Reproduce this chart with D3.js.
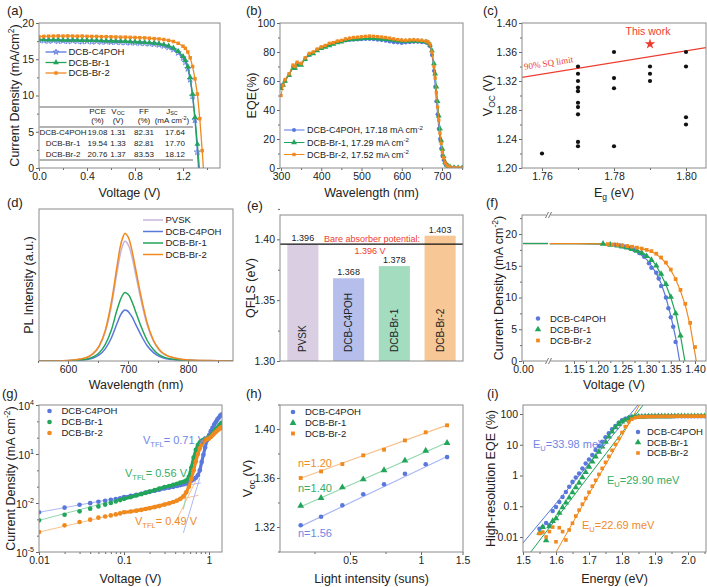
<!DOCTYPE html>
<html><head><meta charset="utf-8">
<script src="https://cdn.jsdelivr.net/npm/d3@7/dist/d3.min.js"></script>
<style>html,body{margin:0;padding:0;background:#fff}svg{display:block}</style>
</head><body>
<svg id="fig" width="707" height="587" xmlns="http://www.w3.org/2000/svg"></svg>
<script>
// ================= DATA =================
const seriesNames = ['DCB-C4POH','DCB-Br-1','DCB-Br-2'];

// (a) J-V
const aVolt = [0.00,0.04,0.08,0.12,0.16,0.20,0.24,0.28,0.32,0.36,0.40,0.44,0.48,0.52,0.56,0.60,0.64,0.68,0.72,0.76,0.80,0.84,0.88,0.92,0.96,1.00,1.04,1.08,1.12,1.16,1.20,1.22,1.24,1.26,1.28,1.30,1.32,1.34,1.36,1.38];
const aJ_C4POH = [17.64,17.58,17.52,17.60,17.50,17.55,17.48,17.56,17.50,17.44,17.50,17.42,17.48,17.40,17.44,17.38,17.40,17.34,17.32,17.30,17.28,17.24,17.20,17.15,17.10,17.00,16.85,16.65,16.35,15.90,15.20,14.60,13.70,12.20,9.90,6.60,2.20,-2.5,-7,-11];
const aJ_Br1 = [17.70,17.72,17.70,17.68,17.70,17.66,17.65,17.66,17.64,17.62,17.62,17.60,17.60,17.58,17.55,17.55,17.52,17.50,17.48,17.45,17.42,17.38,17.34,17.30,17.24,17.15,17.02,16.85,16.55,16.10,15.40,14.85,14.00,12.50,10.20,7.00,3.30,-0.8,-5,-9];
const aJ_Br2 = [18.12,18.15,18.18,18.20,18.22,18.20,18.22,18.20,18.18,18.20,18.16,18.15,18.15,18.12,18.12,18.10,18.08,18.05,18.05,18.02,18.00,17.98,17.95,17.90,17.85,17.80,17.72,17.60,17.45,17.20,16.80,16.50,16.00,15.20,14.00,12.30,10.20,6.80,2.40,-2.5];
const tablePCE = ['19.08','19.54','20.76'];
const tableVoc = ['1.31','1.33','1.37'];
const tableFF  = ['82.31','82.81','83.53'];
const tableJsc = ['17.64','17.70','18.12'];

// (b) EQE
const bWl = [300,305,310,320,330,335,340,350,360,370,380,390,400,410,420,430,440,450,460,470,480,490,500,510,520,530,540,550,560,570,580,590,600,610,620,630,640,650,660,665,670,675,680,683,686,689,692,695,698,701,704,708,712,716,720,730,740,750];
const bEQE_C4POH = [57,57,60,64,70,69,72,72,75,78,79.5,81.5,83,84,85,86,87,87.5,88,88.3,88.5,88.6,88.8,89,89,88.8,88.5,88.2,87.8,87.3,86.8,86.5,86.2,86.5,86.8,87,87,86.8,86.5,86,84,78,67,56,46,37,27,20,13.5,8.5,5.5,2.8,1.5,0.9,0.5,0.3,0.2,0.1];
const bEQE_Br1 = [55,57,60,64,69,69,71,71,75,78,79,81,82.5,83.5,84.5,85.5,86.5,87,88,88.5,88.8,89,89.2,89.4,89.5,89.4,89.3,89,88.8,88.5,88,87.7,87.5,87.3,87.5,87.6,87.5,87.3,87,86.5,85,81,72,65,56,46,36,27,19,13,8,4,2,1.1,0.7,0.3,0.2,0.1];
const bEQE_Br2 = [50,57,61,65,71,70,73,72,76,79,80,82,83.5,84.5,86,86.5,87.5,88,89,89.5,90,90.2,90.5,90.8,91,90.8,90.6,90.3,90,89.5,89,88.5,88.2,88,88.3,88.4,88.2,88,87.5,87,85.5,80,70,62,52,42,33,24,17,11,7,3.5,1.8,1,0.6,0.3,0.2,0.1];
const bLegend = ['DCB-C4POH, 17.18 mA cm','DCB-Br-1, 17.29 mA cm','DCB-Br-2, 17.52 mA cm'];

// (c) Voc vs Eg
const cEg  = [1.76,1.77,1.77,1.77,1.77,1.77,1.77,1.77,1.77,1.77,1.77,1.78,1.78,1.78,1.78,1.79,1.79,1.79,1.80,1.80,1.80,1.80];
const cVoc = [1.22,1.34,1.33,1.32,1.311,1.306,1.29,1.284,1.274,1.236,1.23,1.36,1.324,1.31,1.23,1.34,1.33,1.32,1.36,1.34,1.27,1.26];
const cSQEg = [1.7544,1.8056];
const cSQVoc = [1.325,1.366];
const cThisWork = [1.79,1.371];

// (d) PL
const dWl = [550,600,620,632,642,652,662,672,682,687,692,695,698,702,707,712,722,732,742,752,762,782,802,850,875];
const dPVSK  = [0,0.004,0.012,0.024,0.047,0.095,0.19,0.355,0.59,0.70,0.77,0.79,0.78,0.75,0.68,0.585,0.395,0.237,0.134,0.071,0.04,0.016,0.006,0.002,0];
const dC4POH = [0,0.002,0.005,0.01,0.02,0.04,0.08,0.15,0.25,0.298,0.328,0.335,0.332,0.318,0.288,0.248,0.168,0.1,0.057,0.03,0.017,0.007,0.003,0.001,0];
const dBr1   = [0,0.002,0.007,0.013,0.027,0.054,0.108,0.2,0.34,0.4,0.44,0.45,0.445,0.43,0.387,0.333,0.225,0.135,0.077,0.04,0.022,0.009,0.004,0.001,0];
const dBr2   = [0,0.004,0.013,0.025,0.05,0.10,0.20,0.38,0.63,0.75,0.82,0.84,0.83,0.80,0.72,0.62,0.42,0.25,0.14,0.076,0.042,0.017,0.007,0.002,0];
const dNames = ['PVSK','DCB-C4POH','DCB-Br-1','DCB-Br-2'];

// (e) QFLS
const eCats = ['PVSK','DCB-C4POH','DCB-Br-1','DCB-Br-2'];
const eQFLS = [1.396,1.368,1.378,1.403];
const eBare = 1.396;

// (f) simulated J-V
const fLeftV = [0.0,0.5];
const fLeftJ = [18.5,18.5];
const fFitV = [1.10,1.15,1.20,1.22,1.24,1.26,1.28,1.30,1.31,1.32,1.33,1.34,1.35,1.36,1.37,1.38,1.39,1.40,1.41];
const fFit_C4POH = [18.5,18.5,18.4,18.3,18.1,17.8,17.2,16.0,15.0,13.8,12.2,10.0,7.1,3.7,-0.8,-5,-9,-13,-17];
const fFit_Br1 = [18.5,18.5,18.45,18.35,18.2,17.9,17.5,16.7,16.0,15.0,13.6,12.0,10.0,7.5,4.0,-0.4,-4,-8,-12];
const fFit_Br2 = [18.5,18.5,18.45,18.4,18.3,18.15,17.9,17.5,17.2,16.8,16.2,15.4,14.3,12.9,11.0,8.8,5.6,1.2,-3.5];
const fMarkV_C4POH = [1.235,1.245,1.255,1.265,1.275,1.285,1.295,1.305,1.31,1.32,1.325,1.33,1.34,1.345,1.35,1.355,1.36];
const fMarkJ_C4POH = [18.3,18.2,18.0,17.8,17.5,17.0,16.4,15.4,14.7,13.9,13.0,11.8,10.0,8.3,6.9,5.4,3.0];
const fMarkV_Br1 = [1.21,1.225,1.24,1.25,1.26,1.27,1.28,1.29,1.30,1.31,1.32,1.33,1.34,1.35,1.36,1.37];
const fMarkJ_Br1 = [18.45,18.3,18.15,18.0,17.85,17.6,17.35,17.0,16.5,15.9,15.0,13.7,12.1,10.1,7.5,4.0];
const fMarkV_Br2 = [1.22,1.23,1.24,1.25,1.26,1.27,1.28,1.29,1.30,1.31,1.32,1.33,1.34,1.35,1.36,1.37,1.38,1.39,1.40];
const fMarkJ_Br2 = [18.4,18.35,18.3,18.2,18.1,18.0,17.85,17.7,17.5,17.3,16.9,16.3,15.5,14.4,12.9,11.2,9.0,6.0,2.2];

// (g) SCLC
const gV = [0.01,0.02,0.03,0.04,0.05,0.06,0.07,0.08,0.09,0.10,0.12,0.14,0.16,0.18,0.20,0.23,0.26,0.30,0.34,0.38,0.42,0.46,0.50,0.54,0.58,0.62,0.66,0.70,0.74,0.78,0.82,0.86,0.90,0.95,1.00,1.05,1.10,1.15,1.20,1.25,1.30,1.35,1.40];
const gJ_C4POH = [0.0027,0.0052,0.0078,0.0098,0.012,0.0138,0.0158,0.0175,0.0195,0.023,0.027,0.032,0.037,0.043,0.048,0.056,0.065,0.078,0.088,0.098,0.11,0.125,0.14,0.16,0.19,0.23,0.28,0.35,0.5,1.0,3.2,9,25,70,140,250,400,630,890,1260,1660,2140,2630];
const gJ_Br1 = [0.00087,0.0019,0.0031,0.0045,0.0062,0.0080,0.0100,0.0125,0.015,0.018,0.023,0.029,0.035,0.042,0.050,0.062,0.077,0.095,0.11,0.13,0.15,0.175,0.20,0.24,0.40,1.5,6,18,35,52,65,75,85,92,100,130,180,240,310,400,500,640,800];
const gJ_Br2 = [0.000166,0.00043,0.00069,0.00095,0.00126,0.0015,0.00174,0.0020,0.0023,0.0027,0.0030,0.0034,0.0038,0.0043,0.0048,0.0056,0.0065,0.0080,0.0095,0.0115,0.014,0.018,0.026,0.045,0.1,0.3,1.0,3.5,10,22,38,55,70,82,90,110,140,180,220,270,320,380,440];
const gFitSeries = [0,1,2,0,2,1];
const gFitV = [[0.01,0.80],[0.01,0.72],[0.01,0.75],[0.50,0.78],[0.40,0.71],[0.50,0.62]];
const gFitJ = [[0.0027,0.17],[0.00087,0.30],[0.000166,0.03],[0.00015,0.35],[0.0006,0.27],[0.004,1.5]];
const gVtfl = ['0.71','0.56','0.49'];

// (h) Voc vs light intensity
const hI = [0.309,0.377,0.464,0.569,0.697,0.855,1.047,1.29];
const hVoc_C4POH = [1.3214,1.3284,1.3377,1.3467,1.3548,1.3635,1.3712,1.3771];
const hVoc_Br1 = [1.3374,1.3437,1.3524,1.3589,1.3663,1.3742,1.3823,1.3886];
const hVoc_Br2 = [1.3600,1.3654,1.3714,1.3785,1.3831,1.3907,1.3973,1.4030];
const hFitI = [0.309,1.29];
const hFit_C4POH = [1.3205,1.3775];
const hFit_Br1 = [1.3365,1.3890];
const hFit_Br2 = [1.3598,1.4032];
const hN = ['n=1.56','n=1.40','n=1.20'];

// (i) Urbach
const iE = [1.55,1.56,1.57,1.58,1.59,1.60,1.61,1.62,1.63,1.64,1.65,1.66,1.67,1.68,1.69,1.70,1.71,1.72,1.73,1.74,1.75,1.76,1.77,1.78,1.79,1.80,1.81,1.82,1.83,1.84,1.85,1.86,1.87,1.88,1.89,1.90,1.91,1.92,1.93,1.94,1.95,1.96,1.97,1.98,1.99,2.00,2.01,2.02,2.03,2.04,2.05,2.06];
const iEQE_C4POH = [0.0187,0.021,0.0286,0.024,0.0705,0.095,0.138,0.20,0.29,0.43,0.62,0.86,1.16,1.69,2.46,3.3,4.6,6.7,9.1,12.5,17.4,23.5,31.7,40.7,52,63,70,76,80,82,83,83,83,84,84,84,84,84,84,85,85,85,85,85,85,85,85,85,85,85,85,85];
const iEQE_Br1 = [0.0135,0.021,0.0077,0.022,0.033,0.040,0.061,0.091,0.13,0.19,0.28,0.41,0.58,0.86,1.28,1.92,2.8,4.07,5.9,8.6,12.5,18.2,26.5,36.7,47,56,64,72,78,81,82,82,83,83,83,84,84,84,84,84,84,85,85,85,85,85,85,85,85,85,85,85];
const iEQE_Br2 = [0.013,0.0145,0.010,0.015,0.021,0.007,0.02,0.015,0.008,0.017,0.028,0.048,0.075,0.117,0.18,0.285,0.45,0.70,1.09,1.71,2.68,4.2,6.6,10.3,16,25,39,56,68,76,80,81,82,82,83,83,83,84,84,84,84,84,85,85,85,85,85,85,85,85,85,85];
const iFitE = [[1.50,1.8485],[1.523,1.864],[1.60,1.853]];
const iFitEQE = [[0.0064,196],[0.0032,196],[0.0032,196]];
const iEu = ['33.98','29.90','22.69'];

// ================= STYLE =================
const FONT = '"Liberation Sans", Arial, Helvetica, sans-serif';
const COL = ['#5a78dc','#22a55a','#f0891e'];
const TXT = ['#6f86e6','#35ad63','#f08a25'];
const PALE = ['#aab8f2','#92d6ad','#f7c18c'];
const PVSK_COL = '#c4b4dc';
const BAR_COL = ['#d9cee2','#b6bfec','#a4dcc0','#f7c795'];
const RED = '#ee3b2f';
const svg = d3.select('#fig');

function rich(sel, parts, fs){
  let cur = 0;
  parts.forEach(p=>{
    let t=p, k=null;
    if(Array.isArray(p)){t=p[0];k=p[1];}
    const target = k==='sub'? fs*0.24 : (k==='sup'? -fs*0.4 : 0);
    const ts = sel.append('tspan').text(t).attr('dy',(target-cur).toFixed(2));
    if(k) ts.attr('font-size',(fs*0.68).toFixed(1));
    cur = target;
  });
  return sel;
}
function label(x,y,parts,fs,opts={}){
  const t = svg.append('text').attr('x',x).attr('y',y).attr('font-size',fs)
    .attr('font-family',opts.family||FONT).attr('fill',opts.fill||'#222')
    .attr('text-anchor',opts.anchor||'start');
  if(opts.rotate!=null) t.attr('transform',`rotate(${opts.rotate},${x},${y})`);
  if(opts.style) t.attr('font-style',opts.style);
  rich(t, Array.isArray(parts)?parts:[parts], fs);
  return t;
}
function ytitle(xc,yc,parts,fs=12.5){ return label(xc+fs*0.36,yc,parts,fs,{anchor:'middle',rotate:-90}); }
function frame(b){
  svg.append('rect').attr('x',b.x0).attr('y',b.y0).attr('width',b.x1-b.x0).attr('height',b.y1-b.y0)
    .attr('fill','none').attr('stroke','#8a8a8a').attr('stroke-width',1);
}
let clipN=0;
function clip(b){
  const id='clip'+(clipN++);
  svg.append('clipPath').attr('id',id).append('rect').attr('x',b.x0).attr('y',b.y0).attr('width',b.x1-b.x0).attr('height',b.y1-b.y0);
  return `url(#${id})`;
}
function styleAx(g,fs){
  g.select('.domain').remove();
  g.selectAll('line').attr('stroke','#666');
  g.selectAll('text').attr('font-size',fs).attr('font-family',FONT).attr('fill','#222');
}
function axB(scale,y,vals,fmt,minor,fs=10.5){
  const g = svg.append('g').attr('transform',`translate(0,${y})`)
    .call(d3.axisBottom(scale).tickValues(vals).tickFormat(fmt).tickSize(3).tickSizeOuter(0).tickPadding(2));
  styleAx(g,fs);
  if(minor){const m=svg.append('g').attr('transform',`translate(0,${y})`).call(d3.axisBottom(scale).tickValues(minor).tickFormat('').tickSize(2).tickSizeOuter(0)); styleAx(m,fs);}
  return g;
}
function axL(scale,x,vals,fmt,minor,fs=10.5){
  const g = svg.append('g').attr('transform',`translate(${x},0)`)
    .call(d3.axisLeft(scale).tickValues(vals).tickFormat(fmt).tickSize(3).tickSizeOuter(0).tickPadding(2));
  styleAx(g,fs);
  if(minor){const m=svg.append('g').attr('transform',`translate(${x},0)`).call(d3.axisLeft(scale).tickValues(minor).tickFormat('').tickSize(2).tickSizeOuter(0)); styleAx(m,fs);}
  return g;
}
function line(xs,ys,xS,yS,color,w,cl,curve){
  const gen = d3.line().x(d=>xS(d[0])).y(d=>yS(d[1]));
  if(curve) gen.curve(curve);
  svg.append('path').attr('d',gen(xs.map((x,i)=>[x,ys[i]]))).attr('fill','none')
    .attr('stroke',color).attr('stroke-width',w).attr('stroke-linejoin','round').attr('clip-path',cl||null);
}
const SYM = [d3.symbolCircle, d3.symbolTriangle, d3.symbolSquare];
function marks(xs,ys,xS,yS,type,size,fill,stroke,cl,sw){
  const sym = d3.symbol().type(type).size(size);
  svg.append('g').attr('clip-path',cl||null).selectAll('path').data(xs.map((x,i)=>[x,ys[i]])).join('path')
    .attr('d',sym).attr('transform',d=>`translate(${xS(d[0]).toFixed(2)},${yS(d[1]).toFixed(2)})`)
    .attr('fill',fill).attr('stroke',stroke||'none').attr('stroke-width',sw||0.8);
}
function mark1(x,y,type,size,fill,stroke,sw){
  svg.append('path').attr('d',d3.symbol().type(type).size(size)()).attr('transform',`translate(${x},${y})`)
    .attr('fill',fill).attr('stroke',stroke||'none').attr('stroke-width',sw||0.8);
}
function plabel(x,y,t){ label(x,y,t,13); }

// ================= (a) =================
{
  const B={x0:39,y0:23,x1:220,y1:168}, cl=clip(B);
  const x=d3.scaleLinear().domain([0,1.2]).range([39,183]);
  const y=d3.scaleLinear().domain([0,20]).range([168,23]);
  axB(x,B.y1,[0,0.4,0.8,1.2],d3.format('.1f'),[0.2,0.6,1.0,1.4]);
  axL(y,B.x0,[0,5,10,15,20],d3.format('d'),[2.5,7.5,12.5,17.5]);
  const Js=[aJ_C4POH,aJ_Br1,aJ_Br2];
  [0,1,2].forEach(i=>line(aVolt,Js[i],x,y,COL[i],1.3,cl));
  marks(aVolt,aJ_C4POH,x,y,d3.symbolStar,12,'none',COL[0],cl,0.8);
  marks(aVolt,aJ_Br1,x,y,d3.symbolTriangle,15,COL[1],null,cl);
  marks(aVolt,aJ_Br2,x,y,d3.symbolSquare,12,COL[2],null,cl);
  // legend
  const ly=[52,62.5,73];
  [0,1,2].forEach(i=>{
    svg.append('line').attr('x1',45.5).attr('x2',66.5).attr('y1',ly[i]).attr('y2',ly[i]).attr('stroke',COL[i]).attr('stroke-width',1.3);
    if(i===0) mark1(56,ly[i],d3.symbolStar,10,'none',COL[0],0.8);
    else mark1(56,ly[i],SYM[i],i===1?15:12,COL[i]);
    label(68.5,ly[i]+3.3,seriesNames[i],9.5);
  });
  // table
  [107,127,160].forEach(yy=>svg.append('line').attr('x1',39.5).attr('x2',193).attr('y1',yy).attr('y2',yy).attr('stroke','#9a9a9a').attr('stroke-width',1.5));
  const tf=8, cx=[97.5,118,144,172];
  label(cx[0],113.5,'PCE',tf,{anchor:'middle'}); label(cx[0],123,'(%)',tf,{anchor:'middle'});
  label(cx[1],113.5,['V',['OC','sub']],tf,{anchor:'middle'}); label(cx[1],123,'(V)',tf,{anchor:'middle'});
  label(cx[2],113.5,'FF',tf,{anchor:'middle'}); label(cx[2],123,'(%)',tf,{anchor:'middle'});
  label(cx[3],113.5,['J',['SC','sub']],tf,{anchor:'middle'}); label(cx[3],123,['(mA cm',['-2','sup'],[')',null]],tf,{anchor:'middle'});
  const ry=[135,146,157];
  [0,1,2].forEach(i=>{
    label(63,ry[i],seriesNames[i],tf,{anchor:'middle'});
    label(cx[0],ry[i],tablePCE[i],tf,{anchor:'middle'});
    label(cx[1],ry[i],tableVoc[i],tf,{anchor:'middle'});
    label(cx[2],ry[i],tableFF[i],tf,{anchor:'middle'});
    label(175,ry[i],tableJsc[i],tf,{anchor:'middle'});
  });
  frame(B);
  label(129.5,197,'Voltage (V)',12.5,{anchor:'middle'});
  ytitle(14,95.5,['Current Density (mA/cm',['2','sup'],[')',null]]);
  plabel(7,15,'(a)');
}

// ================= (b) =================
{
  const B={x0:280,y0:23,x1:463,y1:168}, cl=clip(B);
  const x=d3.scaleLinear().domain([300,700]).range([281,442]);
  const y=d3.scaleLinear().domain([0,100]).range([168,23]);
  axB(x,B.y1,[300,400,500,600,700],d3.format('d'),[350,450,550,650,750]);
  axL(y,B.x0,[0,20,40,60,80,100],d3.format('d'),[10,30,50,70,90]);
  const Es=[bEQE_C4POH,bEQE_Br1,bEQE_Br2];
  const sz=[13,15,11];
  [0,1,2].forEach(i=>{ line(bWl,Es[i],x,y,COL[i],1,cl); marks(bWl,Es[i],x,y,SYM[i],sz[i],COL[i],null,cl); });
  const ly=[130,142.5,154.5];
  [0,1,2].forEach(i=>{
    svg.append('line').attr('x1',284).attr('x2',304.5).attr('y1',ly[i]).attr('y2',ly[i]).attr('stroke',COL[i]).attr('stroke-width',1);
    mark1(294,ly[i],SYM[i],sz[i],COL[i]);
    label(307,ly[i]+3.2,[bLegend[i],['-2','sup']],9);
  });
  frame(B);
  label(371.5,197,'Wavelength (nm)',12.5,{anchor:'middle'});
  ytitle(251,95.5,'EQE(%)');
  plabel(246,15,'(b)');
}

// ================= (c) =================
{
  const B={x0:522,y0:23,x1:706,y1:168}, cl=clip(B);
  const x=d3.scaleLinear().domain([1.76,1.80]).range([542,686]);
  const y=d3.scaleLinear().domain([1.20,1.40]).range([168,23]);
  axB(x,B.y1,[1.76,1.78,1.80],d3.format('.2f'),[1.77,1.79]);
  axL(y,B.x0,[1.20,1.24,1.28,1.32,1.36,1.40],d3.format('.2f'),[1.22,1.26,1.30,1.34,1.38]);
  line(cSQEg,cSQVoc,x,y,RED,1.3,cl);
  marks(cEg,cVoc,x,y,d3.symbolCircle,14,'#111',null,cl);
  mark1(x(cThisWork[0]),y(cThisWork[1]),d3.symbolStar,34,RED);
  label(648,34.5,'This work',10.5,{anchor:'middle',fill:RED});
  label(549,66,'90% SQ limit',9,{anchor:'middle',fill:RED,family:'"Liberation Serif", "Times New Roman", serif',rotate:-9});
  frame(B);
  label(614,197,['E',['g','sub'],[' (eV)',null]],12.5,{anchor:'middle'});
  ytitle(487,95.5,['V',['OC','sub'],[' (V)',null]]);
  plabel(483,15,'(c)');
}

// ================= (d) =================
{
  const B={x0:39,y0:209,x1:233,y1:361}, cl=clip(B);
  const x=d3.scaleLinear().domain([600,800]).range([68,188]);
  const y=d3.scaleLinear().domain([0,1]).range([361,209]);
  axB(x,B.y1,[600,700,800],d3.format('d'),[550,650,750,850]);
  const Ps=[dPVSK,dC4POH,dBr1,dBr2], Pc=[PVSK_COL,COL[0],COL[1],COL[2]];
  [0,1,2,3].forEach(i=>line(dWl,Ps[i],x,y,Pc[i],1.5,cl,d3.curveMonotoneX));
  const ly=[220,231.5,243,254.5];
  [0,1,2,3].forEach(i=>{
    svg.append('line').attr('x1',143).attr('x2',163).attr('y1',ly[i]).attr('y2',ly[i]).attr('stroke',Pc[i]).attr('stroke-width',1.5);
    label(165.5,ly[i]+3.3,dNames[i],9.5);
  });
  frame(B);
  label(136,389,'Wavelength (nm)',12.5,{anchor:'middle'});
  ytitle(28,285,'PL Intensity (a.u.)');
  plabel(7,207,'(d)');
}

// ================= (e) =================
{
  const B={x0:280,y0:215,x1:463,y1:361}, cl=clip(B);
  const x=d3.scaleBand().domain(eCats).range([280,463]).paddingInner(0.32).paddingOuter(0.16);
  const y=d3.scaleLinear().domain([1.30,1.42]).range([361,215]);
  axL(y,B.x0,[1.30,1.35,1.40],d3.format('.2f'),[1.325,1.375,1.425]);
  const g=svg.append('g').attr('clip-path',cl);
  g.selectAll('rect').data(eCats).join('rect')
    .attr('x',d=>x(d)).attr('width',x.bandwidth())
    .attr('y',(d,i)=>y(eQFLS[i])).attr('height',(d,i)=>361-y(eQFLS[i]))
    .attr('fill',(d,i)=>BAR_COL[i]);
  eCats.forEach((c,i)=>{
    const cx=x(c)+x.bandwidth()/2;
    label(cx,y(eQFLS[i])-3,d3.format('.3f')(eQFLS[i]),9,{anchor:'middle'});
    label(cx+3.6,352,c,10,{rotate:-90});
  });
  svg.append('line').attr('x1',280).attr('x2',463).attr('y1',y(eBare)).attr('y2',y(eBare)).attr('stroke','#111').attr('stroke-width',1.2);
  label(372,241.5,'Bare absorber potential:',9,{anchor:'middle',fill:RED});
  label(370,253.5,d3.format('.3f')(eBare)+' V',9,{anchor:'middle',fill:RED});
  frame(B);
  ytitle(250,288,'QFLS (eV)');
  plabel(247,210,'(e)');
}

// ================= (f) =================
{
  const B={x0:522,y0:215,x1:706,y1:361}, cl=clip(B);
  const xL=d3.scaleLinear().domain([0,0.5]).range([523,548]);
  const xR=d3.scaleLinear().domain([1.15,1.40]).range([574,695]);
  const y=d3.scaleLinear().domain([0,20]).range([361,234]);
  axB(xL,B.y1,[0],d3.format('.2f'),null);
  axB(xR,B.y1,[1.15,1.20,1.25,1.30,1.35,1.40],d3.format('.2f'),[1.175,1.225,1.275,1.325,1.375,1.425]);
  axL(y,B.x0,[0,5,10,15,20],d3.format('d'),[2.5,7.5,12.5,17.5,22.5]);
  const Fs=[fFit_C4POH,fFit_Br1,fFit_Br2];
  const MV=[fMarkV_C4POH,fMarkV_Br1,fMarkV_Br2], MJ=[fMarkJ_C4POH,fMarkJ_Br1,fMarkJ_Br2];
  const sz=[16,18,14];
  [2,0,1].forEach(i=>line(fLeftV,fLeftJ,xL,y,COL[i],1.2,cl));
  [0,1,2].forEach(i=>line(fFitV,Fs[i],xR,y,COL[i],1.2,cl));
  [0,1,2].forEach(i=>marks(MV[i],MJ[i],xR,y,SYM[i],sz[i],COL[i],null,cl));
  const ly=[318.5,329.5,340.5];
  [0,1,2].forEach(i=>{ mark1(538,ly[i],SYM[i],sz[i],COL[i]); label(550,ly[i]+3.3,seriesNames[i],9.5); });
  frame(B);
  // axis break
  [B.y0,B.y1].forEach(yy=>{
    svg.append('rect').attr('x',546.5).attr('y',yy-1).attr('width',4).attr('height',2).attr('fill','#fff');
    [545.5,548.5].forEach(xx=>svg.append('line').attr('x1',xx).attr('y1',yy+3).attr('x2',xx+3).attr('y2',yy-3).attr('stroke','#666').attr('stroke-width',0.9));
  });
  label(614,389,'Voltage (V)',12.5,{anchor:'middle'});
  ytitle(498,288,['Current Density (mA cm',['-2','sup'],[')',null]]);
  plabel(486,207,'(f)');
}

// ================= (g) =================
{
  const B={x0:39,y0:405,x1:222,y1:552}, cl=clip(B);
  const x=d3.scaleLog().domain([0.01,1]).range([39,209]);
  const y=d3.scaleLog().domain([1e-5,1e4]).range([552,405]);
  axB(x,B.y1,[0.01,0.1,1],d=>String(d),[0.02,0.03,0.04,0.05,0.06,0.07,0.08,0.09,0.2,0.3,0.4,0.5,0.6,0.7,0.8,0.9]);
  axL(y,B.x0,[1e-5,1e-2,1e1,1e4],'',[1e-4,1e-3,1e-1,1,1e2,1e3]);
  [[1e-5,'-5'],[1e-2,'-2'],[1e1,'1'],[1e4,'4']].forEach(([v,e])=>label(34,y(v)+4.5,['10',[e,'sup']],10.5,{anchor:'end'}));
  const Js=[gJ_C4POH,gJ_Br1,gJ_Br2];
  gFitV.forEach((v,k)=>line(v,gFitJ[k],x,y,PALE[gFitSeries[k]],1,cl));
  [0,1,2].forEach(i=>{
    const hv=gV.filter(v=>v>=0.1), hj=Js[i].filter((j,k)=>gV[k]>=0.1);
    line(hv,hj,x,y,COL[i],3.2,cl);
    marks(gV,Js[i],x,y,d3.symbolCircle,17,COL[i],null,cl);
  });
  const ly=[411,422,433];
  [0,1,2].forEach(i=>{ mark1(49.5,ly[i],d3.symbolCircle,17,COL[i]); label(61.5,ly[i]+3.3,seriesNames[i],9.5); });
  label(143,444,['V',['TFL','sub'],['= '+gVtfl[0]+' V',null]],11,{fill:TXT[0]});
  label(125,477,['V',['TFL','sub'],['= '+gVtfl[1]+' V',null]],11,{fill:TXT[1]});
  label(135,525,['V',['TFL','sub'],['= '+gVtfl[2]+' V',null]],11,{fill:TXT[2]});
  frame(B);
  label(130.5,583,'Voltage (V)',12.5,{anchor:'middle'});
  ytitle(10,478.5,['Current Density (mA cm',['-2','sup'],[')',null]]);
  plabel(2,398,'(g)');
}

// ================= (h) =================
{
  const B={x0:280,y0:405,x1:463,y1:552}, cl=clip(B);
  const x=d3.scaleLog().domain([0.5,1]).range([350,421]);
  const y=d3.scaleLinear().domain([1.32,1.40]).range([527,429]);
  axB(x,B.y1,[0.5,1,1.5],d=>String(d),[0.3536,0.7071]);
  axL(y,B.x0,[1.32,1.36,1.40],d3.format('.2f'),[1.30,1.34,1.38,1.42]);
  const Vs=[hVoc_C4POH,hVoc_Br1,hVoc_Br2], Fs=[hFit_C4POH,hFit_Br1,hFit_Br2];
  const sz=[17,20,15];
  [0,1,2].forEach(i=>{ line(hFitI,Fs[i],x,y,PALE[i],1.2,cl); marks(hI,Vs[i],x,y,SYM[i],sz[i],COL[i],null,cl); });
  const ly=[412,423,433.5];
  [0,1,2].forEach(i=>{ mark1(293,ly[i],SYM[i],sz[i],COL[i]); label(305,ly[i]+3.3,seriesNames[i],9.5); });
  label(298,467,hN[2],11,{fill:TXT[2]});
  label(298,492,hN[1],11,{fill:TXT[1]});
  label(298,537,hN[0],11,{fill:TXT[0]});
  frame(B);
  label(371.5,583,'Light intensity (suns)',12.5,{anchor:'middle'});
  ytitle(247,478.5,['V',['oc','sub'],[' (V)',null]]);
  plabel(246,398,'(h)');
}

// ================= (i) =================
{
  const B={x0:523,y0:405,x1:706,y1:552}, cl=clip(B);
  const x=d3.scaleLinear().domain([1.5,2.0]).range([523,688]);
  const y=d3.scaleLog().domain([0.01,100]).range([537,414]);
  axB(x,B.y1,[1.5,1.6,1.7,1.8,1.9,2.0],d3.format('.1f'),[1.55,1.65,1.75,1.85,1.95,2.05]);
  axL(y,B.x0,[0.01,0.1,1,10,100],d=>String(d),null);
  const Es=[iEQE_C4POH,iEQE_Br1,iEQE_Br2];
  const sz=[16,18,13];
  [0,1,2].forEach(i=>line(iFitE[i],iFitEQE[i],x,y,COL[i],1,cl));
  [0,1,2].forEach(i=>marks(iE,Es[i],x,y,SYM[i],sz[i],COL[i],null,cl));
  const ly=[432,442.5,453];
  [0,1,2].forEach(i=>{ mark1(638,ly[i],SYM[i],sz[i],COL[i]); label(647,ly[i]+3.3,seriesNames[i],9.5); });
  label(533,448,['E',['U','sub'],['='+iEu[0]+' meV',null]],11,{fill:TXT[0]});
  label(607,484,['E',['U','sub'],['='+iEu[1]+' meV',null]],11,{fill:TXT[1]});
  label(582,529,['E',['U','sub'],['='+iEu[2]+' meV',null]],11,{fill:TXT[2]});
  frame(B);
  label(614.5,583,'Energy (eV)',12.5,{anchor:'middle'});
  ytitle(490,478.5,'High-resolution EQE (%)');
  plabel(487,398,'(i)');
}
</script>
</body></html>
